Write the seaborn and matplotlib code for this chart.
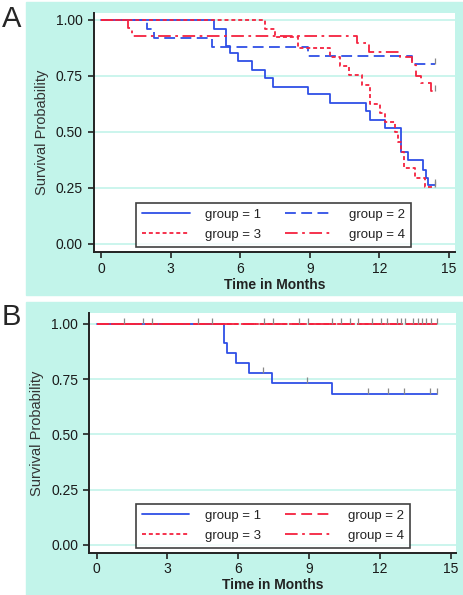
import numpy as np
import matplotlib
matplotlib.use("Agg")
import matplotlib.pyplot as plt
import seaborn as sns

# Panel A: Kaplan-Meier steps (time in months, survival probability)
a_g1_t = [0, 4.88, 5.41, 5.55, 5.89, 6.49, 7.08, 7.42, 8.93, 9.89, 11.41, 11.58, 12.24, 12.92, 13.25, 13.86, 14.02, 14.10, 14.38]
a_g1_s = [1.0, 0.958, 0.885, 0.851, 0.817, 0.776, 0.742, 0.702, 0.668, 0.630, 0.592, 0.553, 0.519, 0.411, 0.374, 0.329, 0.292, 0.262, 0.262]
a_g2_t = [0, 1.97, 2.28, 4.77, 8.93, 13.42, 14.38]
a_g2_s = [1.0, 0.958, 0.918, 0.881, 0.840, 0.802, 0.802]
a_g3_t = [0, 7.06, 7.49, 8.48, 9.88, 10.29, 10.70, 11.23, 11.58, 12.02, 12.26, 12.66, 12.80, 12.95, 13.05, 13.52, 13.95, 14.38]
a_g3_s = [1.0, 0.958, 0.925, 0.873, 0.836, 0.792, 0.754, 0.709, 0.625, 0.586, 0.546, 0.500, 0.455, 0.410, 0.337, 0.292, 0.255, 0.255]
a_g4_t = [0, 1.18, 1.32, 11.04, 11.56, 12.87, 13.40, 13.60, 13.81, 14.24, 14.38]
a_g4_s = [1.0, 0.963, 0.930, 0.896, 0.858, 0.836, 0.800, 0.750, 0.716, 0.684, 0.684]
a_cens = [[14.38], [14.38], [14.38], [14.38]]

# Panel B
b_g1_t = [0, 5.41, 5.51, 5.89, 6.47, 7.42, 9.96, 14.43]
b_g1_s = [1.0, 0.912, 0.870, 0.822, 0.780, 0.731, 0.683, 0.683]
b_g2_t = [0, 14.43]
b_g2_s = [1.0, 1.0]
b_g3_t = [0, 14.43]
b_g3_s = [1.0, 1.0]
b_g4_t = [0, 14.43]
b_g4_s = [1.0, 1.0]
b_g1_cens = [4.30, 4.87, 7.06, 8.90, 11.50, 12.36, 13.00, 14.10, 14.41]
b_red_cens = [1.17, 1.98, 2.33, 7.09, 7.46, 8.59, 8.97, 9.96, 10.35, 10.73, 11.09, 11.65,
              12.03, 12.29, 12.74, 12.88, 13.06, 13.42, 13.59, 13.77, 13.95, 14.15, 14.41]

labels = ["group = 1", "group = 2", "group = 3", "group = 4"]
yticks = [0.0, 0.25, 0.5, 0.75, 1.0]
xticks = [0, 3, 6, 9, 12, 15]

blue = "#2f4fe6"
red = "#f5223f"
cyan = "#c2f4ea"

sns.set_style("white")
plt.rcParams["font.family"] = ["Liberation Sans", "DejaVu Sans"]

fig = plt.figure(figsize=(4.64, 5.95), dpi=100)

# cyan panels behind the axes
fig.patches.append(plt.Rectangle((26 / 464, 1 - 295 / 595), 1, (295 - 2) / 595,
                                 transform=fig.transFigure, color=cyan, zorder=-5))
fig.patches.append(plt.Rectangle((26 / 464, 0), 1, (595 - 302) / 595,
                                 transform=fig.transFigure, color=cyan, zorder=-5))

axA = fig.add_axes([94 / 464, 1 - 252 / 595, 361 / 464, 239 / 595])
axB = fig.add_axes([89.3 / 464, 1 - 553.3 / 595, 366.7 / 464, 240.6 / 595])


def step_val(tt, ss, x):
    idx = np.searchsorted(tt, x, side="right") - 1
    return np.array(ss)[idx]


def draw_panel(ax, curves, styles, colors, xlim, ylim, xpad):
    ax.set_facecolor("white")
    lines = []
    for (tt, ss), ls, c, lab in zip(curves, styles, colors, labels):
        sns.lineplot(x=tt, y=ss, drawstyle="steps-post", estimator=None, sort=False,
                     color=c, linestyle=ls, lw=1.3, ax=ax, label=lab)
        lines.append(ax.lines[-1])
    ax.set_xlim(*xlim)
    ax.set_ylim(*ylim)
    ax.set_xticks(xticks)
    ax.set_yticks(yticks)
    ax.set_yticklabels([f"{v:.2f}" for v in yticks])
    ax.yaxis.grid(True, color=cyan, lw=1.2, zorder=0)
    ax.set_axisbelow(True)
    for s in ["top", "right"]:
        ax.spines[s].set_visible(False)
    for s in ["left", "bottom"]:
        ax.spines[s].set_color("#222222")
        ax.spines[s].set_linewidth(1.4)
    ax.tick_params(axis="both", direction="out", length=4, width=1.2, color="#222222",
                   labelsize=10, labelcolor="#1a1a1a", pad=4, left=True, bottom=True)
    ax.tick_params(axis="x", pad=xpad)
    ax.set_xlabel("Time in Months", fontsize=10, fontweight="bold", color="#222222", labelpad=1)
    ax.set_ylabel("Survival Probability", fontsize=10.5, color="#333333", labelpad=5)
    return lines


dash2 = (0, (6, 3))
dot3 = (0, (2.2, 1.6))
dashdot4 = (0, (7, 2.5, 1.5, 2.5))

# ---- panel A
curvesA = [(a_g1_t, a_g1_s), (a_g2_t, a_g2_s), (a_g3_t, a_g3_s), (a_g4_t, a_g4_s)]
linesA = draw_panel(axA, curvesA, ["-", dash2, dot3, dashdot4], [blue, blue, red, red],
                    (-0.30, 15.26), (-0.037, 1.031), 3.5)
for (tt, ss), cens in zip(curvesA, a_cens):
    axA.plot(cens, step_val(tt, ss, cens), linestyle="none", marker=2, ms=4, mew=0.9, color="#888888")

# ---- panel B
curvesB = [(b_g1_t, b_g1_s), (b_g2_t, b_g2_s), (b_g3_t, b_g3_s), (b_g4_t, b_g4_s)]
linesB = draw_panel(axB, curvesB, ["-", dash2, dot3, dashdot4], [blue, red, red, red],
                    (-0.31, 15.22), (-0.038, 1.051), 2.5)
axB.plot(b_g1_cens, step_val(b_g1_t, b_g1_s, b_g1_cens), linestyle="none", marker=2, ms=4,
         mew=0.9, color="#888888")
axB.plot(b_red_cens, step_val(b_g2_t, b_g2_s, b_red_cens), linestyle="none", marker=2, ms=4,
         mew=0.9, color="#888888")

for ax, lines, anchor in [(axA, linesA, (0.497, 0.021)), (axB, linesB, (0.501, 0.022))]:
    order = [0, 2, 1, 3]
    leg = ax.legend([lines[i] for i in order], [labels[i] for i in order], ncol=2,
                    loc="lower center", bbox_to_anchor=anchor, frameon=True, fancybox=False,
                    edgecolor="#111111", fontsize=9.5, handlelength=3.6, columnspacing=1.8,
                    handletextpad=1.2, borderpad=0.45, labelspacing=0.6, borderaxespad=0)
    leg.get_frame().set_linewidth(1.2)
    for t in leg.get_texts():
        t.set_color("#222222")

fig.text(2 / 464, 1 - 27 / 595, "A", fontsize=21, va="baseline", ha="left")
fig.text(2 / 464, 1 - 325 / 595, "B", fontsize=21, va="baseline", ha="left")

fig.savefig("out.png", dpi=100)
